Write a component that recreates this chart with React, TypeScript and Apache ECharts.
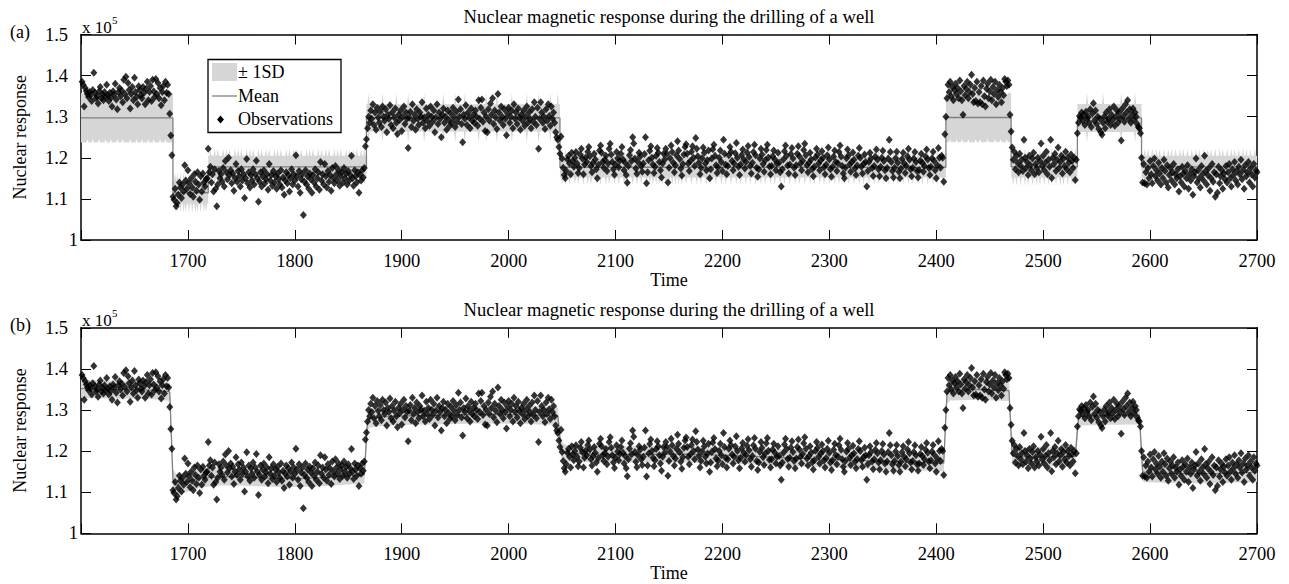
import React, { useEffect, useRef } from "react";
import * as echarts from "echarts";

// ---------------- data (values in units of 10^5 after /1000) ----------------
const TITLE = "Nuclear magnetic response during the drilling of a well";
const X_MIN = 1600;
const X_MAX = 2700;
const Y_MIN = 1;
const Y_MAX = 1.5;

// observations, one per time step, value*1000 (in units of 10^5)
const obsStarts = [1601, 1686, 1718, 1866, 2046, 2408, 2470, 2532, 2592];
const obsA = [
  1385, 1378, 1325, 1370, 1362, 1355, 1348, 1360, 1352, 1338,
  1365, 1407, 1358, 1345, 1350, 1332, 1362, 1372, 1345, 1355,
  1340, 1360, 1348, 1378, 1352, 1338, 1358, 1346, 1325, 1362,
  1354, 1380, 1342, 1318, 1360, 1370, 1350, 1364, 1335, 1390,
  1356, 1397, 1345, 1382, 1365, 1320, 1355, 1372, 1340, 1395,
  1360, 1348, 1330, 1374, 1365, 1352, 1345, 1372, 1358, 1330,
  1368, 1385, 1340, 1360, 1375, 1338, 1390, 1362, 1348, 1392,
  1355, 1382, 1345, 1370, 1328, 1360, 1375, 1340, 1385, 1358,
  1378, 1355, 1307, 1254, 1206,
];
const obsB = [
  1105, 1098, 1125, 1082, 1090, 1110, 1140, 1128, 1102, 1135,
  1118, 1182, 1145, 1125, 1170, 1138, 1112, 1150, 1128, 1105,
  1160, 1142, 1120, 1165, 1135, 1098, 1155, 1118, 1162, 1140,
  1130, 1148,
];
const obsC = [
  1150, 1222, 1165, 1178, 1140, 1160, 1118, 1172, 1125, 1082,
  1135, 1168, 1150, 1160, 1142, 1175, 1130, 1192, 1165, 1148,
  1200, 1158, 1170, 1138, 1162, 1120, 1150, 1185, 1142, 1168,
  1155, 1130, 1172, 1145, 1160, 1102, 1150, 1197, 1138, 1165,
  1128, 1158, 1145, 1172, 1135, 1160, 1193, 1150, 1093, 1142,
  1165, 1130, 1155, 1170, 1138, 1148, 1160, 1122, 1185, 1145,
  1158, 1132, 1168, 1140, 1155, 1125, 1162, 1148, 1135, 1170,
  1128, 1152, 1110, 1145, 1165, 1138, 1158, 1118, 1150, 1172,
  1135, 1160, 1145, 1206, 1155, 1130, 1168, 1115, 1148, 1160,
  1061, 1142, 1170, 1135, 1155, 1125, 1162, 1148, 1115, 1158,
  1140, 1172, 1130, 1150, 1165, 1122, 1190, 1145, 1160, 1135,
  1185, 1155, 1128, 1168, 1142, 1158, 1120, 1175, 1150, 1138,
  1180, 1160, 1145, 1170, 1132, 1155, 1165, 1140, 1175, 1150,
  1162, 1135, 1168, 1145, 1158, 1205, 1150, 1132, 1170, 1155,
  1140, 1165, 1115, 1158, 1145, 1170, 1152, 1175,
];
const obsD = [
  1228, 1245, 1272, 1300, 1285, 1315, 1295, 1330, 1280, 1310,
  1268, 1322, 1298, 1285, 1312, 1275, 1325, 1300, 1290, 1318,
  1262, 1305, 1295, 1328, 1280, 1310, 1272, 1298, 1320, 1285,
  1258, 1305, 1292, 1315, 1265, 1300, 1325, 1282, 1310, 1295,
  1224, 1298, 1312, 1275, 1330, 1290, 1305, 1268, 1318, 1295,
  1280, 1310, 1300, 1335, 1285, 1298, 1272, 1320, 1290, 1305,
  1278, 1325, 1300, 1288, 1315, 1262, 1298, 1330, 1282, 1310,
  1295, 1250, 1305, 1320, 1285, 1300, 1268, 1315, 1292, 1278,
  1308, 1285, 1322, 1298, 1275, 1312, 1288, 1342, 1300, 1318,
  1282, 1238, 1305, 1295, 1328, 1280, 1310, 1298, 1272, 1320,
  1290, 1305, 1285, 1315, 1300, 1278, 1340, 1295, 1322, 1342,
  1288, 1310, 1265, 1300, 1262, 1318, 1290, 1332, 1305, 1345,
  1282, 1315, 1298, 1270, 1355, 1310, 1290, 1325, 1300, 1280,
  1318, 1295, 1255, 1308, 1322, 1285, 1300, 1315, 1272, 1330,
  1295, 1310, 1282, 1320, 1298, 1268, 1305, 1290, 1315, 1278,
  1300, 1325, 1285, 1310, 1295, 1272, 1318, 1288, 1335, 1300,
  1280, 1322, 1222, 1295, 1335, 1310, 1285, 1300, 1270, 1318,
  1290, 1330, 1302, 1278, 1325, 1295, 1310, 1285, 1262, 1250,
];
const obsE = [
  1244, 1226, 1210, 1252, 1198, 1176, 1158, 1150, 1168, 1196,
  1205, 1186, 1160, 1212, 1192, 1178, 1200, 1214, 1186, 1163,
  1175, 1208, 1222, 1198, 1160, 1184, 1201, 1190, 1215, 1226,
  1204, 1180, 1165, 1188, 1210, 1196, 1172, 1150, 1183, 1218,
  1230, 1212, 1190, 1176, 1195, 1205, 1168, 1186, 1222, 1234,
  1208, 1190, 1172, 1159, 1184, 1214, 1199, 1177, 1193, 1210,
  1226, 1196, 1170, 1188, 1158, 1139, 1180, 1206, 1219, 1192,
  1250, 1235, 1198, 1174, 1161, 1190, 1212, 1203, 1180, 1166,
  1186, 1209, 1250, 1138, 1165, 1194, 1217, 1228, 1200, 1184,
  1163, 1178, 1205, 1224, 1212, 1190, 1170, 1152, 1186, 1210,
  1196, 1222, 1210, 1140, 1176, 1199, 1230, 1214, 1188, 1165,
  1182, 1206, 1240, 1218, 1197, 1174, 1157, 1185, 1208, 1226,
  1233, 1210, 1186, 1168, 1192, 1215, 1228, 1200, 1180, 1248,
  1222, 1204, 1188, 1160, 1176, 1199, 1225, 1212, 1186, 1170,
  1194, 1218, 1150, 1172, 1198, 1221, 1232, 1205, 1182, 1163,
  1177, 1200, 1218, 1190, 1168, 1244, 1210, 1183, 1160, 1180,
  1206, 1226, 1215, 1192, 1170, 1186, 1211, 1236, 1200, 1178,
  1158, 1184, 1207, 1220, 1196, 1174, 1190, 1213, 1229, 1202,
  1180, 1162, 1188, 1214, 1232, 1206, 1176, 1154, 1172, 1198,
  1222, 1208, 1185, 1166, 1194, 1219, 1232, 1201, 1179, 1160,
  1180, 1204, 1218, 1196, 1170, 1186, 1212, 1188, 1165, 1130,
  1172, 1196, 1216, 1230, 1205, 1181, 1162, 1184, 1209, 1224,
  1198, 1176, 1158, 1182, 1210, 1228, 1204, 1186, 1170, 1193,
  1219, 1234, 1206, 1182, 1165, 1188, 1212, 1196, 1173, 1155,
  1178, 1201, 1222, 1208, 1186, 1170, 1194, 1216, 1200, 1177,
  1160, 1183, 1206, 1225, 1196, 1172, 1154, 1178, 1203, 1218,
  1190, 1168, 1187, 1214, 1230, 1203, 1180, 1162, 1150, 1176,
  1199, 1220, 1206, 1184, 1166, 1190, 1213, 1195, 1174, 1158,
  1181, 1205, 1224, 1200, 1178, 1162, 1185, 1208, 1190, 1130,
  1168, 1190, 1212, 1198, 1175, 1156, 1180, 1203, 1220, 1195,
  1172, 1155, 1178, 1200, 1217, 1192, 1170, 1150, 1175, 1198,
  1244, 1214, 1190, 1168, 1152, 1176, 1199, 1215, 1188, 1166,
  1150, 1174, 1197, 1212, 1186, 1163, 1180, 1204, 1222, 1195,
  1172, 1155, 1176, 1198, 1214, 1190, 1168, 1152, 1170, 1193,
  1210, 1188, 1166, 1180, 1203, 1220, 1196, 1175, 1158, 1178,
  1199, 1215, 1192, 1170, 1150, 1182, 1224, 1200, 1176, 1205,
  1200, 1142,
];
const obsF = [
  1257, 1300, 1345, 1378, 1360, 1385, 1350, 1372, 1340, 1365,
  1380, 1355, 1370, 1345, 1388, 1362, 1340, 1305, 1375, 1352,
  1368, 1385, 1345, 1360, 1378, 1402, 1355, 1335, 1370, 1338,
  1385, 1332, 1360, 1335, 1375, 1330, 1388, 1350, 1325, 1368,
  1380, 1345, 1362, 1390, 1340, 1372, 1355, 1385, 1330, 1365,
  1348, 1378, 1360, 1335, 1370, 1352, 1392, 1385, 1375, 1388, 1378, 1305,
];
const obsG = [
  1264, 1225, 1195, 1215, 1172, 1205, 1188, 1165, 1210, 1180,
  1195, 1168, 1244, 1200, 1175, 1190, 1158, 1205, 1182, 1170,
  1198, 1212, 1160, 1185, 1175, 1200, 1165, 1192, 1235, 1180,
  1205, 1170, 1188, 1215, 1160, 1195, 1178, 1244, 1151, 1200,
  1185, 1210, 1168, 1195, 1225, 1175, 1190, 1205, 1162, 1198,
  1180, 1215, 1172, 1200, 1188, 1165, 1208, 1192, 1175, 1200,
  1146, 1195,
];
const obsH = [
  1260, 1285, 1302, 1298, 1310, 1290, 1305, 1280, 1312, 1295,
  1300, 1285, 1318, 1275, 1308, 1333, 1290, 1315, 1282, 1300,
  1270, 1295, 1262, 1256, 1285, 1300, 1272, 1310, 1288, 1295,
  1318, 1280, 1305, 1292, 1325, 1278, 1300, 1315, 1285, 1310,
  1295, 1242, 1320, 1302, 1288, 1330, 1310, 1340, 1295, 1318,
  1285, 1305, 1320, 1292, 1310, 1300, 1282, 1275, 1272, 1260,
];
const obsI = [
  1200, 1140, 1185, 1138, 1165, 1135, 1175, 1150, 1192, 1160,
  1138, 1180, 1198, 1155, 1170, 1145, 1188, 1162, 1135, 1175,
  1150, 1195, 1168, 1140, 1182, 1128, 1158, 1175, 1145, 1165,
  1185, 1135, 1160, 1150, 1172, 1118, 1155, 1140, 1178, 1162,
  1130, 1168, 1150, 1182, 1125, 1160, 1145, 1172, 1110, 1155,
  1165, 1198, 1140, 1170, 1150, 1128, 1180, 1160, 1145, 1205,
  1168, 1135, 1158, 1175, 1120, 1150, 1185, 1142, 1165, 1105,
  1160, 1115, 1178, 1138, 1155, 1170, 1125, 1162, 1148, 1180,
  1140, 1165, 1185, 1150, 1130, 1172, 1158, 1190, 1145, 1168,
  1135, 1178, 1160, 1195, 1148, 1170, 1125, 1182, 1155, 1165,
  1190, 1140, 1175, 1160, 1130, 1185, 1152, 1170, 1165,
];
const obsChunks = [obsA, obsB, obsC, obsD, obsE, obsF, obsG, obsH, obsI];

// panel (a): piecewise constant model
const segStartA = [1600, 1686, 1719, 1867, 2048, 2409, 2470, 2532, 2592];
const segEndA = [1686, 1719, 1867, 2048, 2409, 2470, 2532, 2592, 2700];
const segMeanA = [1.297, 1.115, 1.178, 1.297, 1.177, 1.298, 1.178, 1.297, 1.178];
const segSdA = [0.06, 0.026, 0.027, 0.033, 0.025, 0.06, 0.026, 0.034, 0.027];
const segAltSdA = [0.052, 0.049, 0.044, 0.06, 0.043, 0.052, 0.046, 0.06, 0.044];
const altTimesA = [
  [1606, 1611, 1617, 1623, 1628, 1634, 1639, 1646, 1652, 1657, 1663, 1668, 1674, 1679],
  [1688, 1690, 1693, 1696, 1698, 1701, 1704, 1707, 1709, 1712, 1715, 1717],
  [1721, 1725, 1728, 1733, 1736, 1739, 1744, 1747, 1750, 1755, 1758, 1761, 1766, 1769, 1773, 1776, 1781, 1784, 1787, 1792, 1795, 1799, 1802, 1806, 1811, 1814, 1817, 1822, 1825, 1829, 1832, 1837, 1840, 1843, 1848, 1851, 1855, 1858, 1862, 1865],
  [1869, 1882, 1895, 1906, 1921, 1939, 1950, 1959, 1972, 1979, 1989, 2003, 2017, 2028, 2039, 2046],
  [2050, 2053, 2057, 2062, 2065, 2070, 2074, 2077, 2082, 2086, 2091, 2094, 2099, 2103, 2108, 2111, 2116, 2120, 2124, 2129, 2132, 2135, 2138, 2141, 2144, 2147, 2150, 2153, 2156, 2159, 2162, 2166, 2171, 2176, 2180, 2185, 2189, 2194, 2199, 2203, 2208, 2213, 2217, 2222, 2226, 2231, 2236, 2240, 2245, 2249, 2254, 2258, 2263, 2268, 2272, 2277, 2282, 2286, 2291, 2295, 2300, 2305, 2309, 2314, 2318, 2323, 2328, 2332, 2337, 2342, 2346, 2351, 2355, 2360, 2364, 2369, 2374, 2378, 2383, 2387, 2392, 2397, 2401, 2406],
  [2413, 2419, 2424, 2430, 2437, 2441, 2448, 2455, 2460, 2466],
  [2472, 2475, 2479, 2483, 2486, 2490, 2494, 2497, 2501, 2505, 2508, 2512, 2516, 2519, 2523, 2527, 2530],
  [2541, 2556, 2573, 2586],
  [2595, 2598, 2602, 2606, 2609, 2613, 2617, 2620, 2624, 2628, 2631, 2635, 2639, 2643, 2646, 2650, 2654, 2657, 2661, 2665, 2668, 2672, 2676, 2679, 2683, 2687, 2690, 2694, 2698],
];

// panel (b): smooth posterior mean
const knotTimeB = [1600, 1620, 1640, 1660, 1675, 1683, 1686, 1689, 1695, 1705, 1715, 1730, 1750, 1770, 1790, 1810, 1830, 1850, 1865, 1868, 1871, 1890, 1910, 1930, 1950, 1970, 1990, 2010, 2030, 2046, 2049, 2053, 2080, 2120, 2160, 2200, 2250, 2300, 2350, 2390, 2407, 2410, 2413, 2440, 2468, 2471, 2474, 2500, 2530, 2533, 2536, 2560, 2590, 2593, 2596, 2630, 2660, 2700];
const knotMeanB = [1.352, 1.350, 1.350, 1.349, 1.347, 1.344, 1.13, 1.118, 1.122, 1.13, 1.135, 1.138, 1.137, 1.135, 1.133, 1.134, 1.136, 1.14, 1.142, 1.272, 1.28, 1.285, 1.286, 1.287, 1.288, 1.289, 1.289, 1.288, 1.287, 1.286, 1.205, 1.195, 1.193, 1.192, 1.193, 1.19, 1.185, 1.18, 1.175, 1.172, 1.171, 1.34, 1.348, 1.35, 1.347, 1.19, 1.186, 1.186, 1.187, 1.28, 1.285, 1.287, 1.288, 1.15, 1.147, 1.145, 1.145, 1.148];
const knotSdB = [0.022, 0.022, 0.022, 0.022, 0.022, 0.022, 0.026, 0.026, 0.025, 0.024, 0.023, 0.022, 0.021, 0.021, 0.021, 0.021, 0.021, 0.021, 0.021, 0.022, 0.022, 0.022, 0.022, 0.022, 0.022, 0.022, 0.022, 0.022, 0.022, 0.022, 0.02, 0.02, 0.02, 0.02, 0.02, 0.02, 0.02, 0.02, 0.02, 0.02, 0.02, 0.025, 0.025, 0.025, 0.025, 0.023, 0.023, 0.023, 0.023, 0.023, 0.023, 0.023, 0.023, 0.023, 0.023, 0.023, 0.023, 0.023];

// ---------------- styling ----------------
const FONT = '"Liberation Serif", "Times New Roman", serif';
const BAND = "#d6d6d6";
const MEAN_C = "#808080";
const DOT = "#000000";
const PANEL_TOP = [34.5, 327.8];
const PANEL_H = 205.5;
const LEFT = 81;
const RIGHT_EDGE = 1257;

function buildObservations() {
  const out: number[][] = [];
  obsChunks.forEach((arr, k) => {
    arr.forEach((v, i) => out.push([obsStarts[k] + i, v / 1000]));
  });
  return out;
}

// band rows: [t, lower, upper]
function buildPanelA() {
  const band: number[][] = [];
  const mean: number[][] = [];
  segStartA.forEach((s, k) => {
    const e = segEndA[k];
    const m = segMeanA[k];
    mean.push([s, m], [e, m]);
    for (let t = s; t <= e; t++) {
      const sd = altTimesA[k].includes(t) ? segAltSdA[k] : segSdA[k];
      band.push([t, m - sd, m + sd]);
    }
  });
  return { band, mean };
}

function buildPanelB() {
  const band: number[][] = [];
  const mean: number[][] = [];
  knotTimeB.forEach((t, i) => {
    band.push([t, knotMeanB[i] - knotSdB[i], knotMeanB[i] + knotSdB[i]]);
    mean.push([t, knotMeanB[i]]);
  });
  return { band, mean };
}

function txt(x: number, y: number, text: string, size = 17, align = "left") {
  return {
    type: "text",
    x,
    y,
    z: 100,
    silent: true,
    style: {
      text,
      fill: "#000",
      font: `${size}px ${FONT}`,
      textAlign: align,
      textVerticalAlign: "middle",
      align,
      verticalAlign: "middle",
    },
  };
}

export default function App() {
  const ref = useRef<HTMLDivElement>(null);
  useEffect(() => {
    document.body.style.margin = "0";
    if (!ref.current) return;
    const chart = echarts.init(ref.current, undefined, { renderer: "svg" });
    const obs = buildObservations();
    const pa = buildPanelA();
    const pb = buildPanelB();
    const tickFont = { fontFamily: FONT, fontSize: 18.5, color: "#000" };
    const nameFont = { fontFamily: FONT, fontSize: 18, color: "#000" };
    const axisLine = { show: true, onZero: false, lineStyle: { color: "#000", width: 1.5 } };
    const tick = { show: true, inside: true, length: 10, lineStyle: { color: "#000", width: 1 } };

    const xAxes: any[] = [];
    const yAxes: any[] = [];
    const grids: any[] = [];
    [0, 1].forEach((g) => {
      grids.push({ left: LEFT, top: PANEL_TOP[g], width: RIGHT_EDGE - LEFT, height: PANEL_H, containLabel: false });
      xAxes.push({
        type: "value", gridIndex: g, min: X_MIN, max: X_MAX, interval: 100, position: "bottom",
        axisLine, axisTick: tick, splitLine: { show: false },
        axisLabel: { ...tickFont, margin: 11, showMaxLabel: true, formatter: (v: number) => (v === X_MIN ? "" : String(v)) },
        name: "Time", nameLocation: "middle", nameGap: 31, nameTextStyle: nameFont,
      });
      xAxes.push({
        type: "value", gridIndex: g, min: X_MIN, max: X_MAX, interval: 100, position: "top",
        axisLine, axisTick: tick, splitLine: { show: false }, axisLabel: { show: false },
      });
      yAxes.push({
        type: "value", gridIndex: g, min: Y_MIN, max: Y_MAX, interval: 0.1, position: "left",
        axisLine, axisTick: tick, splitLine: { show: false },
        axisLabel: {
          ...tickFont, margin: 13,
          formatter: (v: number) => (Math.abs(v - 1) < 1e-9 ? "{one|1}" : v.toFixed(1)),
          rich: { one: { fontFamily: FONT, fontSize: 18.5, color: "#000", padding: [0, -10, 0, 0] } },
        },
        name: "Nuclear response", nameLocation: "middle", nameGap: 52, nameTextStyle: nameFont,
      });
      yAxes.push({
        type: "value", gridIndex: g, min: Y_MIN, max: Y_MAX, interval: 0.1, position: "right",
        axisLine, axisTick: tick, splitLine: { show: false }, axisLabel: { show: false },
      });
    });

    const bandSeries = (g: number, rows: number[][]) => ({
      type: "custom", xAxisIndex: g * 2, yAxisIndex: g * 2, data: rows, silent: true, z: 1,
      encode: { x: 0, y: [1, 2] },
      renderItem: (params: any, api: any) => {
        if (params.dataIndex !== 0) return null;
        const upper = rows.map((r) => api.coord([r[0], r[2]]));
        const lower = rows.map((r) => api.coord([r[0], r[1]])).reverse();
        return {
          type: "polygon",
          shape: { points: upper.concat(lower) },
          style: { fill: BAND, stroke: null },
        };
      },
    });

    const panelSeries = (g: number, p: { band: number[][]; mean: number[][] }) => [
      bandSeries(g, p.band),
      {
        type: "line", xAxisIndex: g * 2, yAxisIndex: g * 2, data: p.mean,
        symbol: "none", lineStyle: { width: 1.3, color: MEAN_C }, silent: true, z: 2,
      },
      {
        type: "scatter", xAxisIndex: g * 2, yAxisIndex: g * 2, data: obs,
        symbol: "diamond", symbolSize: [7, 8], itemStyle: { color: DOT }, silent: true, z: 3,
      },
    ];

    const graphic: any[] = [];
    [0, 1].forEach((g) => {
      const off = PANEL_TOP[g] - PANEL_TOP[0];
      graphic.push(txt(669, 16 + off, TITLE, 18.6, "center"));
      graphic.push(txt(10, 32 + off, g === 0 ? "(a)" : "(b)", 18, "left"));
      graphic.push(txt(82, 27 + off, "x 10", 17, "left"));
      graphic.push(txt(112, 19.5 + off, "5", 11, "left"));
    });
    // legend of panel (a)
    graphic.push({
      type: "rect", z: 100, silent: true,
      shape: { x: 208, y: 59.5, width: 133, height: 73 },
      style: { fill: "#fff", stroke: "#000", lineWidth: 1.3 },
    });
    graphic.push({
      type: "rect", z: 101, silent: true,
      shape: { x: 212, y: 63, width: 25, height: 18 },
      style: { fill: BAND },
    });
    graphic.push({
      type: "line", z: 101, silent: true,
      shape: { x1: 212, y1: 96, x2: 237, y2: 96 },
      style: { stroke: MEAN_C, lineWidth: 1.3 },
    });
    graphic.push({
      type: "polygon", z: 101, silent: true,
      shape: { points: [[220.5, 115.5], [224, 119.5], [220.5, 123.5], [217, 119.5]] },
      style: { fill: DOT },
    });
    graphic.push(txt(238, 72, "± 1SD", 18, "left"));
    graphic.push(txt(238, 95.5, "Mean", 18, "left"));
    graphic.push(txt(238, 118.5, "Observations", 18, "left"));

    chart.setOption({
      animation: false,
      backgroundColor: "#fff",
      grid: grids,
      xAxis: xAxes,
      yAxis: yAxes,
      series: [...panelSeries(0, pa), ...panelSeries(1, pb)],
      graphic,
    });
    return () => chart.dispose();
  }, []);
  return <div ref={ref} style={{ width: 1289, height: 584 }} />;
}
